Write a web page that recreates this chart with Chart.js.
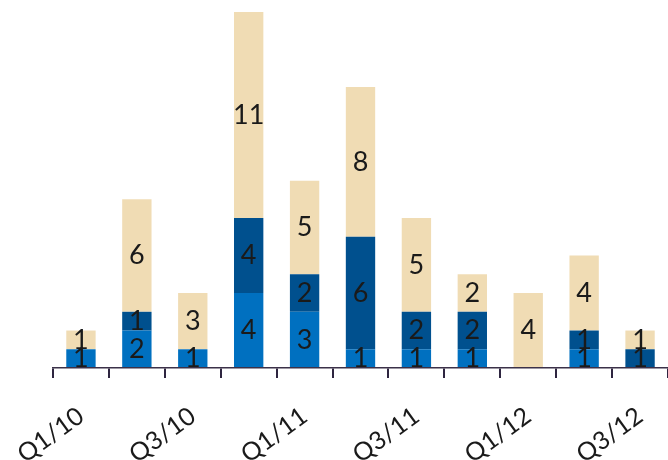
<!DOCTYPE html>
<html><head><meta charset="utf-8">
<script src="https://cdn.jsdelivr.net/npm/chart.js@4"></script>
<style>html,body{margin:0;padding:0;background:#fff}#wrap{width:668px;height:460px;position:relative}</style>
</head><body><div id="wrap"><canvas id="c"></canvas></div>
<script>
const categories = ['Q1/10','Q2/10','Q3/10','Q4/10','Q1/11','Q2/11','Q3/11','Q4/11','Q1/12','Q2/12','Q3/12'];
const seriesBottom = [1,2,1,4,3,1,1,1,0,1,0];
const seriesMiddle = [0,1,0,4,2,6,2,2,0,1,1];
const seriesTop = [1,6,3,11,5,8,5,2,4,4,1];
const tickLabels = ['Q1/10','','Q3/10','','Q1/11','','Q3/11','','Q1/12','','Q3/12'];

const valueLabels = {
  id: 'valueLabels',
  afterDatasetsDraw(chart) {
    const ctx = chart.ctx;
    ctx.save();
    ctx.font = '27px Lato';
    ctx.fillStyle = '#1a1a1a';
    ctx.textAlign = 'center';
    ctx.textBaseline = 'middle';
    chart.data.datasets.forEach((ds, di) => {
      const meta = chart.getDatasetMeta(di);
      meta.data.forEach((el, i) => {
        const v = ds.data[i];
        if (!v) return;
        ctx.fillText(String(v), el.x, (el.y + el.base) / 2);
      });
    });
    ctx.restore();
  }
};

new Chart(document.getElementById('c'), {
  type: 'bar',
  data: {
    labels: categories,
    datasets: [
      { data: seriesBottom, backgroundColor: '#0070c0', barPercentage: 0.525, categoryPercentage: 1 },
      { data: seriesMiddle, backgroundColor: '#00508e', barPercentage: 0.525, categoryPercentage: 1 },
      { data: seriesTop, backgroundColor: '#f0dcb4', barPercentage: 0.525, categoryPercentage: 1 }
    ]
  },
  options: {
    responsive: true,
    maintainAspectRatio: false,
    animation: false,
    layout: { padding: { left: 53, top: 12, right: 0, bottom: 0 } },
    plugins: { legend: { display: false }, tooltip: { enabled: false } },
    scales: {
      x: {
        stacked: true,
        grid: { display: true, z: 1, drawOnChartArea: false, drawTicks: true, tickLength: 10, color: '#2e2540', lineWidth: 2 },
        border: { display: true, z: 1, color: '#3b3149', width: 1.5 },
        ticks: {
          autoSkip: false, minRotation: 36, maxRotation: 36, padding: 23,
          color: '#1a1a1a', font: { family: 'Lato', size: 25 },
          callback: (v, i) => tickLabels[i]
        },
        afterFit: s => { s.height = 92; s.paddingLeft = 0; s.paddingRight = 0; }
      },
      y: { stacked: true, display: false, min: 0, max: 19 }
    }
  },
  plugins: [valueLabels]
});
</script></body></html>
